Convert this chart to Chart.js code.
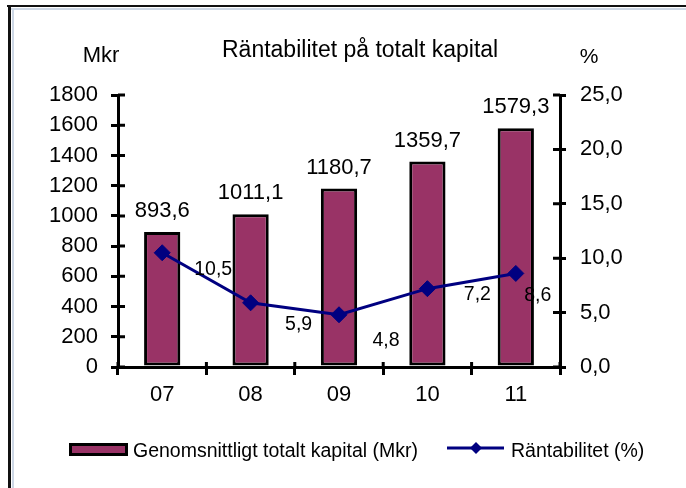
<!DOCTYPE html>
<html>
<head>
<meta charset="utf-8">
<script src="https://cdn.jsdelivr.net/npm/chart.js@4.4.1/dist/chart.umd.min.js"></script>
<style>
  html, body { margin: 0; padding: 0; background: #fff; }
  #wrap { width: 686px; height: 488px; }
</style>
</head>
<body>
<div id="wrap"><canvas id="capitalChart" width="686" height="488"></canvas></div>
<script>
// data
const years = ['07', '08', '09', '10', '11'];
const capital = [893.6, 1011.1, 1180.7, 1359.7, 1579.3];
const profitability = [10.5, 5.9, 4.8, 7.2, 8.6];
const leftTicks = [0, 200, 400, 600, 800, 1000, 1200, 1400, 1600, 1800];
const rightTicks = [0, 5, 10, 15, 20, 25];

const FONT = "'Liberation Sans', Arial, sans-serif";
const PLUM = '#993366';
const NAVY = '#000080';

// where Excel put the line labels, relative to each point
const lineLabelNudge = [[51, 17], [48, 22], [47, 26], [50, 6], [22, 22]];

const comma = v => v.toFixed(1).replace('.', ',');

function putText(c, text, x, y, size, align) {
    c.font = size + 'px ' + FONT;
    c.textAlign = align || 'left';
    c.textBaseline = 'alphabetic';
    c.fillText(text, x, y);
}

const decor = {
    id: 'decor',
    beforeDraw(chart) {
        const c = chart.ctx;
        c.save();
        c.fillStyle = '#cdd7e5';
        c.fillRect(11, 8, 675, 2);
        c.fillRect(12, 8, 2, 480);
        c.fillStyle = '#111';
        c.fillRect(7, 5, 679, 2);
        c.fillRect(8, 5, 3, 483);
        c.restore();
    },
    afterDatasetsDraw(chart) {
        const c = chart.ctx;
        c.save();
        c.fillStyle = '#000';
        chart.getDatasetMeta(0).data.forEach((bar, i) => {
            putText(c, comma(capital[i]), bar.x, bar.y - 15, 22, 'center');
        });
        c.font = '19.5px ' + FONT;
        c.textBaseline = 'middle';
        chart.getDatasetMeta(1).data.forEach((pt, i) => {
            const n = lineLabelNudge[i];
            c.fillText(comma(profitability[i]), pt.x + n[0], pt.y + n[1]);
        });
        c.restore();
    },
    afterDraw(chart) {
        const c = chart.ctx;
        const area = chart.chartArea;
        const {x, y, y1} = chart.scales;
        c.save();
        // inner half of the crossing tick marks
        c.strokeStyle = '#000';
        c.lineWidth = 3;
        c.beginPath();
        y.ticks.forEach(t => {
            const py = y.getPixelForValue(t.value);
            c.moveTo(area.left, py); c.lineTo(area.left + 7, py);
        });
        y1.ticks.forEach(t => {
            const py = y1.getPixelForValue(t.value);
            c.moveTo(area.right - 7, py); c.lineTo(area.right, py);
        });
        for (let i = 0; i <= years.length; i++) {
            const px = x.getPixelForValue(i - 0.5);
            c.moveTo(px, area.bottom); c.lineTo(px, area.bottom - 5);
        }
        c.stroke();

        // title and axis units
        c.fillStyle = '#000';
        putText(c, 'Räntabilitet på totalt kapital', 222, 57, 23, 'left');
        putText(c, 'Mkr', 101, 62, 22, 'center');
        putText(c, '%', 589, 63, 21, 'center');

        // legend
        c.fillStyle = PLUM;
        c.fillRect(70, 444, 57, 11);
        c.strokeStyle = '#000';
        c.lineWidth = 3;
        c.strokeRect(70.5, 444.5, 56, 10);
        c.fillStyle = '#000';
        putText(c, 'Genomsnittligt totalt kapital (Mkr)', 133, 457, 19.5, 'left');

        c.strokeStyle = NAVY;
        c.lineWidth = 3;
        c.beginPath();
        c.moveTo(447, 448); c.lineTo(504, 448);
        c.stroke();
        c.fillStyle = NAVY;
        c.beginPath();
        c.moveTo(476, 442); c.lineTo(482, 448); c.lineTo(476, 454); c.lineTo(470, 448);
        c.closePath();
        c.fill();
        c.fillStyle = '#000';
        putText(c, 'Räntabilitet (%)', 511, 457, 19.5, 'left');
        c.restore();
    }
};

const tickFont = { size: 22, family: FONT };

new Chart(document.getElementById('capitalChart'), {
    type: 'bar',
    data: {
        labels: years,
        datasets: [{
            type: 'bar',
            label: 'Genomsnittligt totalt kapital (Mkr)',
            data: capital,
            backgroundColor: PLUM,
            borderColor: '#000',
            borderWidth: 3,
            borderSkipped: false,
            barPercentage: 0.41,
            categoryPercentage: 1,
            yAxisID: 'y',
            order: 1
        }, {
            type: 'line',
            label: 'Räntabilitet (%)',
            data: profitability,
            borderColor: NAVY,
            borderWidth: 3,
            pointStyle: 'rectRot',
            pointRadius: 8,
            pointBackgroundColor: NAVY,
            pointBorderColor: NAVY,
            pointBorderWidth: 1,
            tension: 0,
            yAxisID: 'y1',
            order: 0
        }]
    },
    options: {
        responsive: false,
        animation: false,
        layout: { padding: { top: 95, left: 0, right: 0, bottom: 0 } },
        plugins: {
            legend: { display: false },
            tooltip: { enabled: false }
        },
        scales: {
            x: {
                grid: {
                    offset: true,
                    drawOnChartArea: false,
                    color: '#000',
                    lineWidth: 3,
                    tickLength: 8
                },
                border: { color: '#000', width: 3 },
                ticks: { color: '#000', font: tickFont, padding: 7 },
                afterFit(scale) { scale.height = 121; }
            },
            y: {
                position: 'left',
                min: 0,
                max: 1800,
                grid: {
                    drawOnChartArea: false,
                    color: '#000',
                    lineWidth: 3,
                    tickLength: 7
                },
                border: { color: '#000', width: 3 },
                ticks: { color: '#000', font: tickFont, padding: 13, callback: v => String(v) },
                afterBuildTicks(scale) { scale.ticks = leftTicks.map(v => ({ value: v })); },
                afterFit(scale) { scale.width = 118; }
            },
            y1: {
                position: 'right',
                min: 0,
                max: 25,
                grid: {
                    drawOnChartArea: false,
                    color: '#000',
                    lineWidth: 3,
                    tickLength: 6
                },
                border: { color: '#000', width: 3 },
                ticks: {
                    color: '#000',
                    font: tickFont,
                    padding: 14,
                    callback: v => comma(v)
                },
                afterBuildTicks(scale) { scale.ticks = rightTicks.map(v => ({ value: v })); },
                afterFit(scale) { scale.width = 126; }
            }
        }
    },
    plugins: [decor]
});
</script>
</body>
</html>
